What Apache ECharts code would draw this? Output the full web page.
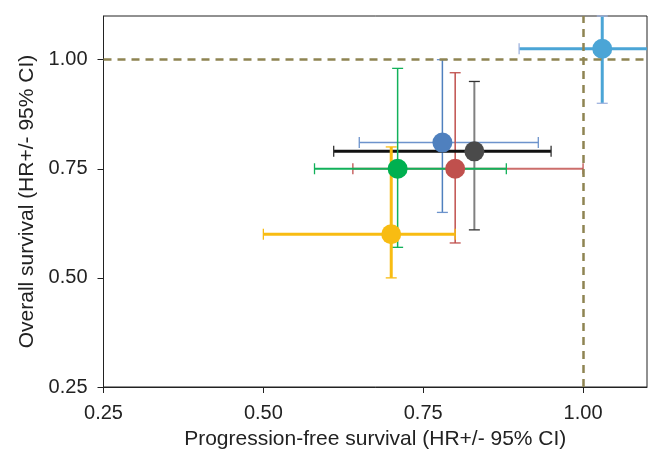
<!DOCTYPE html>
<html>
<head>
<meta charset="utf-8">
<script src="https://cdn.jsdelivr.net/npm/echarts@6/dist/echarts.min.js"></script>
<style>html,body{margin:0;padding:0;background:#fff}#c{width:648px;height:455px}</style>
</head>
<body>
<div id="c"></div>
<script>
// Data (hazard ratios with 95% CI)
const pfsHR   = [1.03, 0.78, 0.80, 0.83, 0.71, 0.70];
const pfsLow  = [0.90, 0.65, 0.64, 0.61, 0.58, 0.50];
const pfsHigh = [1.18, 0.93, 1.00, 0.95, 0.88, 0.80];
const osHR    = [1.025, 0.81, 0.75, 0.79, 0.75, 0.60];
const osLow   = [0.90, 0.65, 0.58, 0.61, 0.57, 0.50];
const osHigh  = [1.10, 1.00, 0.97, 0.95, 0.98, 0.80];
const tickValues = [0.25, 0.50, 0.75, 1.00];

// Styles
const dotColors = ['#4BA5D6', '#4F80BE', '#C0504D', '#4A4A4A', '#00B050', '#F8BC12'];
const hColors   = ['#4BA5D6', '#6D93CC', '#CC6E6B', '#111111', '#12B15A', '#F8BC12'];
const vColors   = ['#4BA5D6', '#4F80BE', '#C0504D', '#808080', '#12B15A', '#F8BC12'];
const capColors = ['#9FB3DF', '#6D93CC', '#C0504D', '#333333', '#12B15A', '#F8BC12'];
const hWidths   = [3, 1.5, 2, 3, 2, 3];
const vWidths   = [3, 1.5, 1.5, 2, 1.5, 3];

const barData = pfsHR.map((x, i) => [x, osHR[i], pfsLow[i], pfsHigh[i], osLow[i], osHigh[i], i]);
const dotData = pfsHR.map((x, i) => ({ value: [x, osHR[i]], itemStyle: { color: dotColors[i], opacity: 1 } }));

const chart = echarts.init(document.getElementById('c'), null, { renderer: 'canvas' });
const font = '"Liberation Sans", Arial, Helvetica, sans-serif';

function renderItem(params, api) {
  const cs = params.coordSys;
  const i = api.value(6);
  const y = api.value(1), x = api.value(0);
  const pL = api.coord([api.value(2), y]);
  const pH = api.coord([api.value(3), y]);
  const vL = api.coord([x, api.value(4)]);
  const vH = api.coord([x, api.value(5)]);
  const right = cs.x + cs.width;
  const cap = 5.5;
  const children = [];
  const hx2 = Math.min(pH[0], right);
  children.push({ type: 'line', shape: { x1: pL[0], y1: pL[1], x2: hx2, y2: pH[1] },
    style: { stroke: hColors[i], lineWidth: hWidths[i] } });
  children.push({ type: 'line', shape: { x1: pL[0], y1: pL[1] - cap, x2: pL[0], y2: pL[1] + cap },
    style: { stroke: capColors[i], lineWidth: 1.3 } });
  if (pH[0] <= right) {
    children.push({ type: 'line', shape: { x1: pH[0], y1: pH[1] - cap, x2: pH[0], y2: pH[1] + cap },
      style: { stroke: capColors[i], lineWidth: 1.3 } });
  }
  children.push({ type: 'line', shape: { x1: vL[0], y1: vL[1], x2: vH[0], y2: vH[1] },
    style: { stroke: vColors[i], lineWidth: vWidths[i] } });
  children.push({ type: 'line', shape: { x1: vL[0] - cap, y1: vL[1], x2: vL[0] + cap, y2: vL[1] },
    style: { stroke: capColors[i], lineWidth: 1.3 } });
  children.push({ type: 'line', shape: { x1: vH[0] - cap, y1: vH[1], x2: vH[0] + cap, y2: vH[1] },
    style: { stroke: capColors[i], lineWidth: 1.3 } });
  return { type: 'group', children };
}

const axisCommon = {
  type: 'value',
  min: 0.25,
  max: 1.1,
  interval: 0.25,
  splitLine: { show: false },
  axisLine: { show: true, onZero: false, lineStyle: { color: '#222', width: 1 } },
  axisTick: { show: true, inside: false, length: 6, customValues: tickValues, lineStyle: { color: '#222' } },
  axisLabel: { customValues: tickValues, color: '#222', fontSize: 20, fontFamily: font, margin: 16,
    formatter: v => v.toFixed(2) },
  nameLocation: 'middle',
  nameTextStyle: { color: '#222', fontSize: 21, fontFamily: font }
};

chart.setOption({
  animation: false,
  backgroundColor: '#fff',
  grid: { left: 103.5, right: 1, top: 16, bottom: 67, show: true, borderColor: '#222', borderWidth: 1 },
  xAxis: Object.assign({}, axisCommon, { name: 'Progression-free survival (HR+/- 95% CI)', nameGap: 42 }),
  yAxis: Object.assign({}, axisCommon, { name: 'Overall survival (HR+/- 95% CI)', nameGap: 66 }),
  series: [
    {
      type: 'line', data: [], z: 1,
      markLine: {
        silent: true, symbol: 'none', animation: false, label: { show: false },
        lineStyle: { color: '#8E8452', width: 2.5, type: [8, 6] },
        data: [{ xAxis: 1.0 }, { yAxis: 1.0 }]
      }
    },
    { type: 'custom', renderItem, data: barData, z: 2,
      encode: { x: [0, 2, 3], y: [1, 4, 5] } },
    { type: 'scatter', data: dotData, symbolSize: 20, z: 3 }
  ]
});
</script>
</body>
</html>
